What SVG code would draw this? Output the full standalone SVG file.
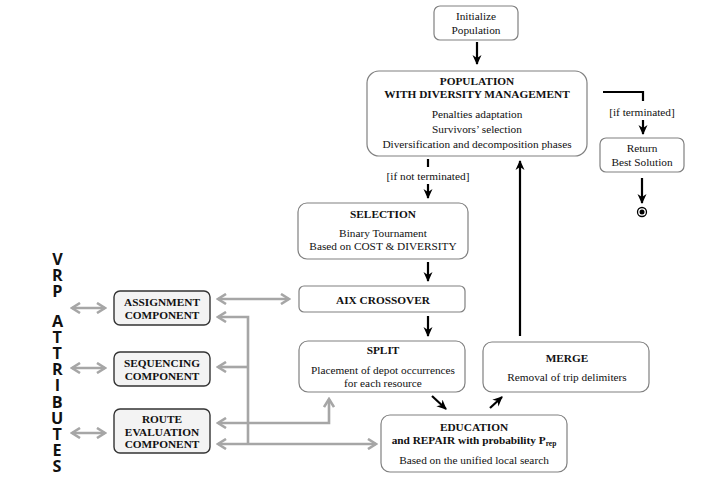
<svg xmlns="http://www.w3.org/2000/svg" width="709" height="479" viewBox="0 0 709 479">
  <style>
    .box { fill: #ffffff; stroke: #808080; stroke-width: 1.2; }
    .comp { fill: #f3f3f3; stroke: #333333; stroke-width: 1.4; }
    text { font-family: "Liberation Serif", "Times New Roman", serif; font-size: 11.3px; fill: #111111; text-anchor: middle; }
    .b { font-weight: bold; }
    .vrp { font-family: "Open Sans", "Liberation Sans", sans-serif; font-size: 16.2px; font-weight: 700; text-anchor: start; writing-mode: vertical-rl; text-orientation: upright; letter-spacing: -5.9px; }
    .flow { fill: none; stroke: #000000; stroke-width: 2.2; }
    .flow-h { marker-end: url(#head); }
    .link { fill: none; stroke: #a6a6a6; stroke-width: 2.6; }
  </style>
  <defs>
    <marker id="head" viewBox="0 0 10 10" refX="9" refY="5" markerWidth="10" markerHeight="10" markerUnits="userSpaceOnUse" orient="auto">
      <path d="M0,0.5 L10,5 L0,9.5 L3,5 Z" fill="#000000"/>
    </marker>
    <marker id="ghead" viewBox="0 0 12 12" refX="10" refY="6" markerWidth="12" markerHeight="12" markerUnits="userSpaceOnUse" orient="auto-start-reverse">
      <path d="M2,1 L10,6 L2,11" fill="none" stroke="#a6a6a6" stroke-width="2.6" stroke-linejoin="miter"/>
    </marker>
  </defs>

  <!-- connectors -->
  <g id="connectors">
    <path class="flow flow-h" d="M477,42 V64"/>
    <path class="flow" d="M603,92 H643 V101"/>
    <path class="flow flow-h" d="M643,120 V134"/>
    <path class="flow flow-h" d="M642,178 V203"/>
    <path class="flow" d="M428,159 V167"/>
    <path class="flow flow-h" d="M428,184 V198"/>
    <path class="flow flow-h" d="M428,262 V281"/>
    <path class="flow flow-h" d="M428,316 V336"/>
    <path class="flow flow-h" d="M432,396 L446,409"/>
    <path class="flow flow-h" d="M490,408 L502,397"/>
    <path class="flow flow-h" d="M520,336 V161"/>

    <path class="link" d="M72,308 H105" marker-start="url(#ghead)" marker-end="url(#ghead)"/>
    <path class="link" d="M72,368 H105" marker-start="url(#ghead)" marker-end="url(#ghead)"/>
    <path class="link" d="M72,433 H105" marker-start="url(#ghead)" marker-end="url(#ghead)"/>
    <path class="link" d="M218,299 H289" marker-start="url(#ghead)" marker-end="url(#ghead)"/>
    <path class="link" d="M248,444 V317 H218" marker-end="url(#ghead)"/>
    <path class="link" d="M248,367 H218" marker-end="url(#ghead)"/>
    <path class="link" d="M218,423 H329 V399" marker-start="url(#ghead)" marker-end="url(#ghead)"/>
    <path class="link" d="M218,444 H376" marker-start="url(#ghead)" marker-end="url(#ghead)"/>
  </g>

  <!-- edge labels -->
  <text x="642" y="116">[if terminated]</text>
  <text x="428" y="180">[if not terminated]</text>

  <!-- end state -->
  <g id="end">
    <circle cx="642" cy="212" r="4.5" fill="#ffffff" stroke="#000000" stroke-width="1.3"/>
    <circle cx="642" cy="212" r="2.5" fill="#000000"/>
  </g>

  <g id="init">
    <rect class="box" x="434" y="6" width="84" height="34" rx="6"/>
    <text x="476" y="20">Initialize</text>
    <text x="476" y="34">Population</text>
  </g>

  <g id="population">
    <rect class="box" x="367" y="71" width="220" height="85" rx="12"/>
    <text class="b" x="477" y="85">POPULATION</text>
    <text class="b" x="477" y="98">WITH DIVERSITY MANAGEMENT</text>
    <text x="477" y="118">Penalties adaptation</text>
    <text x="477" y="133">Survivors’ selection</text>
    <text x="477" y="148">Diversification and decomposition phases</text>
  </g>

  <g id="return">
    <rect class="box" x="600" y="138" width="84" height="34" rx="6"/>
    <text x="642" y="152">Return</text>
    <text x="642" y="166">Best Solution</text>
  </g>

  <g id="selection">
    <rect class="box" x="298" y="203" width="170" height="56" rx="9"/>
    <text class="b" x="383" y="218">SELECTION</text>
    <text x="383" y="237">Binary Tournament</text>
    <text x="383" y="250">Based on COST &amp; DIVERSITY</text>
  </g>

  <g id="crossover">
    <rect class="box" x="299" y="286" width="166" height="26" rx="5"/>
    <text class="b" x="383" y="304">AIX CROSSOVER</text>
  </g>

  <g id="split">
    <rect class="box" x="299" y="341" width="166" height="51" rx="9"/>
    <text class="b" x="383" y="354">SPLIT</text>
    <text x="383" y="374">Placement of depot occurrences</text>
    <text x="383" y="387">for each resource</text>
  </g>

  <g id="merge">
    <rect class="box" x="483" y="342" width="166" height="50" rx="9"/>
    <text class="b" x="567" y="362">MERGE</text>
    <text x="567" y="381">Removal of trip delimiters</text>
  </g>

  <g id="education">
    <rect class="box" x="381" y="415" width="186" height="57" rx="9"/>
    <text class="b" x="474" y="431">EDUCATION</text>
    <text class="b" x="474" y="444">and REPAIR with probability P<tspan font-size="7.5" dy="2">rep</tspan></text>
    <text x="474" y="464">Based on the unified local search</text>
  </g>

  <g id="assignment">
    <rect class="comp" x="114" y="291" width="96" height="34" rx="6"/>
    <text class="b" x="162" y="306">ASSIGNMENT</text>
    <text class="b" x="162" y="319">COMPONENT</text>
  </g>

  <g id="sequencing">
    <rect class="comp" x="114" y="352" width="96" height="34" rx="6"/>
    <text class="b" x="162" y="367">SEQUENCING</text>
    <text class="b" x="162" y="380">COMPONENT</text>
  </g>

  <g id="route-evaluation">
    <rect class="comp" x="114" y="409" width="96" height="44" rx="6"/>
    <text class="b" x="162" y="423">ROUTE</text>
    <text class="b" x="162" y="436">EVALUATION</text>
    <text class="b" x="162" y="448">COMPONENT</text>
  </g>

  <!-- vertical side caption, letters stacked upright -->
  <g id="vrp-attributes">
    <text class="vrp" x="57" y="248">VRP</text>
    <text class="vrp" x="57" y="310">ATTRIBUTES</text>
  </g>
</svg>
